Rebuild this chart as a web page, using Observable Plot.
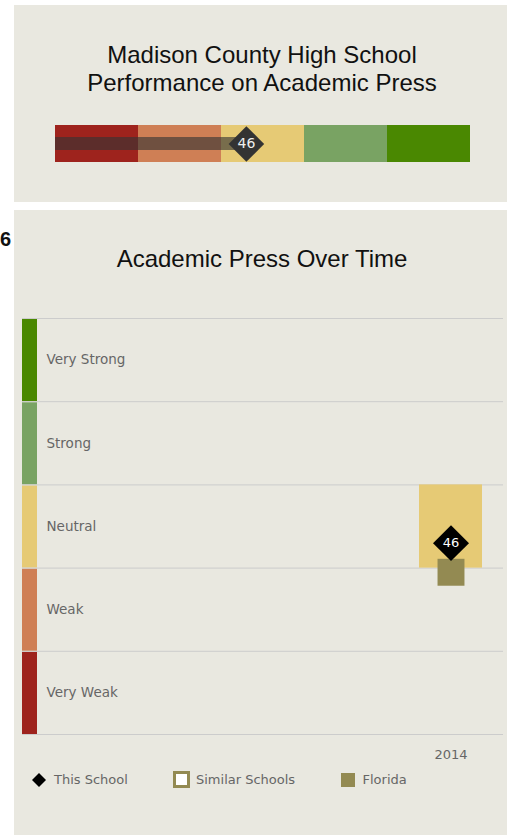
<!DOCTYPE html>
<html>
<head>
<meta charset="utf-8">
<script src="https://cdn.jsdelivr.net/npm/d3@7"></script>
<script src="https://cdn.jsdelivr.net/npm/@observablehq/plot@0.6"></script>
<style>
html, body { margin: 0; padding: 0; background: #fff; overflow: hidden; width: 507px; height: 835px; position: relative; }
.panel { position: absolute; background: #e9e8e0; overflow: hidden; }
.title { position: absolute; left: 0; width: 496px; text-align: center; font-family: "Liberation Sans", Arial, sans-serif; font-size: 24px; line-height: 28px; color: #111; }
.abs { position: absolute; }
.leg { position: absolute; font-family: "DejaVu Sans", Verdana, sans-serif; font-size: 13px; line-height: 16px; color: #666; white-space: nowrap; }
#cut { position: absolute; left: 0px; top: 229px; font-family: "Liberation Sans", Arial, sans-serif; font-weight: bold; font-size: 20px; line-height: 20px; color: #111; white-space: nowrap; }
</style>
</head>
<body>
<div id="cut">6</div>
<div class="panel" style="left:14px; top:5px; width:493px; height:197px;">
  <div class="title" style="top:36px;">Madison County High School<br>Performance on Academic Press</div>
  <div id="bar" class="abs" style="left:0; top:105px;"></div>
</div>
<div class="panel" style="left:14px; top:210px; width:493px; height:625px;">
  <div class="title" style="top:35px;">Academic Press Over Time</div>
  <div id="time" class="abs" style="left:0; top:90px;"></div>
  <svg class="abs" style="left:16.5px; top:561.5px;" width="16" height="16"><polygon points="8,1 15,8 8,15 1,8" fill="#000"/></svg>
  <div class="leg" style="left:40px; top:561.5px;">This School</div>
  <div class="abs" style="left:158.7px; top:561px; width:17px; height:17px; box-sizing:border-box; border:3px solid #938a52; background:#fff;"></div>
  <div class="leg" style="left:182px; top:561.5px;">Similar Schools</div>
  <div class="abs" style="left:327px; top:562.5px; width:14px; height:14px; background:#938a52;"></div>
  <div class="leg" style="left:348.5px; top:561.5px;">Florida</div>
</div>
<script>
// ---- data ----
const levels = ["Very Weak", "Weak", "Neutral", "Strong", "Very Strong"];
const levelLow = [0, 20, 40, 60, 80];
const levelHigh = [20, 40, 60, 80, 100];
const levelColors = ["#9e231d", "#cf7f55", "#e6ca75", "#79a363", "#4a8801"];
const years = ["2014"];
const schoolScores = [46];
const floridaScores = [39];
const currentScore = 46;

const bands = levels.map((name, i) => ({name, lo: levelLow[i], hi: levelHigh[i], color: levelColors[i]}));
const yearly = years.map((year, i) => {
  const s = schoolScores[i];
  let k = bands.findIndex(b => s >= b.lo && s < b.hi);
  if (k < 0) k = bands.length - 1;
  return {year, school: s, florida: floridaScores[i], band: bands[k]};
});

const diamond = {
  draw(ctx, size) {
    const r = Math.sqrt(size) * 0.62625;
    ctx.moveTo(0, -r); ctx.lineTo(r, 0); ctx.lineTo(0, r); ctx.lineTo(-r, 0); ctx.closePath();
  }
};

const bar = Plot.plot({
  width: 493, height: 70,
  marginLeft: 41, marginRight: 37, marginTop: 15, marginBottom: 18,
  x: {domain: [0, 100], axis: null},
  style: {background: "transparent", overflow: "visible"},
  marks: [
    Plot.rect(bands, {x1: "lo", x2: "hi", fill: "color"}),
    Plot.barX([currentScore], {x: d => d, fill: "#333", fillOpacity: 0.62, insetTop: 12, insetBottom: 12}),
    Plot.dot([currentScore], {x: d => d, symbol: diamond, r: 16, fill: "#333", frameAnchor: "middle"}),
    Plot.text([currentScore], {x: d => d, text: d => String(d), fill: "#eee", fontSize: 14, fontFamily: "DejaVu Sans", frameAnchor: "middle"})
  ]
});
document.getElementById("bar").append(bar);

const time = Plot.plot({
  width: 493, height: 470,
  marginLeft: 8, marginRight: 4, marginTop: 18, marginBottom: 36,
  x: {type: "band", domain: years, range: [405, 468], padding: 0, axis: null, label: null},
  y: {domain: [0, 100], axis: null},
  style: {background: "transparent", overflow: "visible"},
  marks: [
    Plot.rect(bands, {y1: "lo", y2: "hi", fill: "color", insetTop: 1, insetRight: 466}),
    Plot.ruleY([...levelLow, levelHigh[levelHigh.length - 1]], {stroke: "#ccc"}),
    Plot.text(bands, {y: d => (d.lo + d.hi) / 2, text: "name", frameAnchor: "left", textAnchor: "start", dx: 24, fill: "#666", fontSize: 13.5, fontFamily: "DejaVu Sans"}),
    Plot.barY(yearly, {x: "year", y1: d => d.band.lo, y2: d => d.band.hi, fill: d => d.band.color}),
    Plot.axisX({tickSize: 0, tickPadding: 15, fontSize: 13, fontFamily: "DejaVu Sans", color: "#666", label: null}),
    Plot.dot(yearly, {x: "year", y: "florida", symbol: "square", r: 15.2, fill: "#938a52"}),
    Plot.dot(yearly, {x: "year", y: "school", symbol: diamond, r: 16.2, fill: "#000"}),
    Plot.text(yearly, {x: "year", y: "school", text: d => String(d.school), fill: "#fff", fontSize: 13, fontFamily: "DejaVu Sans"})
  ]
});
document.getElementById("time").append(time);
</script>
</body>
</html>
